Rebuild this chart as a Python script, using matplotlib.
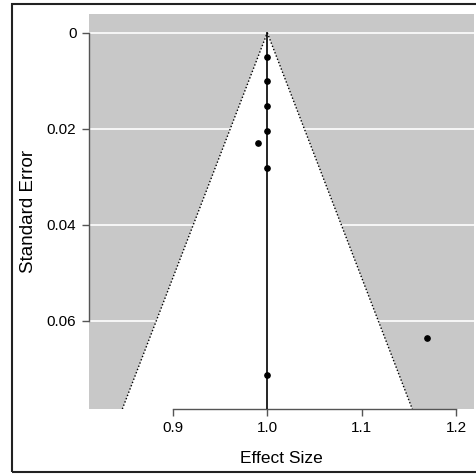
import matplotlib
matplotlib.use("Agg")
import matplotlib.pyplot as plt
import matplotlib.patches as patches
import numpy as np

# studies: effect size and standard error
effect = [1.0, 1.0, 1.0, 1.0, 0.9905, 1.0, 1.1696, 1.0]
std_err = [0.0051, 0.0101, 0.0153, 0.0204, 0.0229, 0.0281, 0.0636, 0.0713]
pooled = 1.0
x_ticks = [0.9, 1.0, 1.1, 1.2]
x_labels = ["0.9", "1.0", "1.1", "1.2"]
y_ticks = [0, 0.02, 0.04, 0.06]
y_labels = ["0", "0.02", "0.04", "0.06"]

plt.rcParams['font.family'] = ['Liberation Sans', 'DejaVu Sans']

W, H = 477, 475
fig = plt.figure(figsize=(W / 100, H / 100), dpi=100)
ax = fig.add_axes([89 / W, (H - 409) / H, (473.7 - 89) / W, (409 - 14) / H])

xlim = (0.811, 1.2188)
ylim = (0.0784, -0.0039)
ax.set_xlim(*xlim)
ax.set_ylim(*ylim)
ax.set_facecolor('#c8c8c8')

# white grid lines at the y ticks
for yt in y_ticks:
    ax.axhline(yt, color='white', lw=1.2, zorder=1)

# pseudo confidence region
se_max = ylim[0]
tri_x = [pooled - 1.96 * se_max, pooled, pooled + 1.96 * se_max]
tri_y = [se_max, 0, se_max]
ax.fill(tri_x, tri_y, color='white', zorder=2, lw=0)
ax.plot([tri_x[0], pooled], [se_max, 0], color='black', ls=(0, (1, 1.5)), lw=1, zorder=3)
ax.plot([pooled, tri_x[2]], [0, se_max], color='black', ls=(0, (1, 1.5)), lw=1, zorder=3)
ax.plot([pooled, pooled], [0, se_max], color='black', lw=1.2, zorder=3)

ax.plot(effect, std_err, 'o', color='black', ms=3.8, zorder=4)

for s in ['top', 'right']:
    ax.spines[s].set_visible(False)
ax.spines['left'].set_bounds(0, 0.06)
ax.spines['bottom'].set_bounds(0.9, 1.2)
for s in ['left', 'bottom']:
    ax.spines[s].set_color('#555555')
    ax.spines[s].set_linewidth(1)

ax.set_xticks(x_ticks)
ax.set_xticklabels(x_labels)
ax.set_yticks(y_ticks)
ax.set_yticklabels(y_labels)
ax.tick_params(axis='both', length=5, width=1, color='#555555', labelsize=11, pad=4)

ax.set_xlabel("Effect Size", fontsize=12.5, labelpad=11)
ax.set_ylabel("Standard Error", fontsize=13.5, labelpad=7)

# frame around the whole figure
fig.patches.append(patches.Rectangle((12 / W, (H - 472) / H), 1, (472 - 4) / H,
                                     transform=fig.transFigure, fill=False,
                                     ec='#222222', lw=1.5))

fig.savefig("out.png", dpi=100)
